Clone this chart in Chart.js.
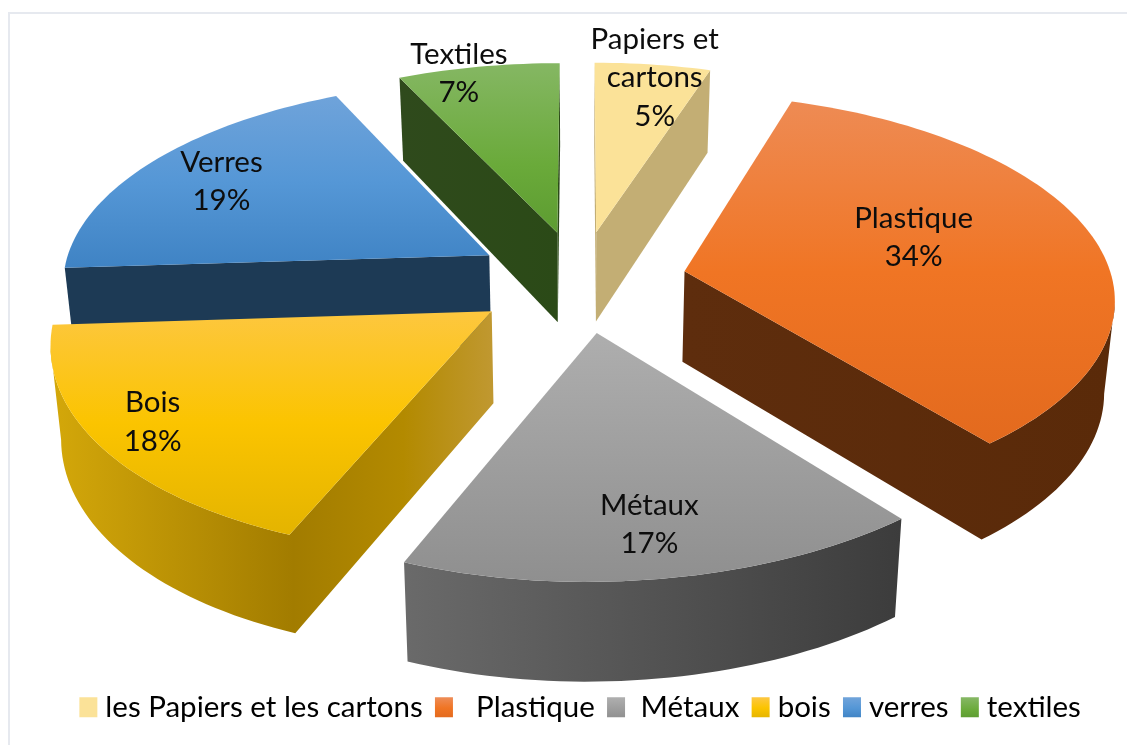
<!DOCTYPE html>
<html>
<head>
<meta charset="utf-8">
<style>
  html, body { margin: 0; background: #fff; }
  #frame { position: absolute; left: 8px; top: 12px; right: 0; bottom: 0; border-left: 2px solid #e6e9ef; border-top: 2px solid #e6e9ef; }
  canvas { position: absolute; left: 0; top: 0; }
</style>
<script src="https://cdn.jsdelivr.net/npm/chart.js@4"></script>
</head>
<body>
<div id="frame"></div>
<canvas id="wasteChart" width="1127" height="745"></canvas>
<script>
const categories = ['les Papiers et les cartons', '  Plastique', ' Métaux', 'bois', 'verres', 'textiles'];
const sliceNames = [['Papiers et', 'cartons'], ['Plastique'], ['Métaux'], ['Bois'], ['Verres'], ['Textiles']];
const shares = [5, 34, 17, 18, 19, 7];

// top face, vertical gradient
const topStops = [
  [[0, '#fbe298'], [1, '#fbe298']],
  [[0, '#ee8b54'], [0.5, '#f07524'], [1, '#e36a1e']],
  [[0, '#aeaeae'], [1, '#8f8f8f']],
  [[0, '#fdc73f'], [0.5, '#fbc400'], [1, '#e4b400']],
  [[0, '#6fa3da'], [0.5, '#5597d6'], [1, '#3f83c4']],
  [[0, '#85b763'], [0.6, '#6aaa3a'], [1, '#5d9c31']]
];
// side walls, horizontal gradient
const wallStops = [
  [[0, '#c3ae74'], [1, '#c3ae74']],
  [[0, '#5e2d0d'], [1, '#5a2a09']],
  [[0, '#6a6a6a'], [1, '#3c3c3c']],
  [[0, '#d4a80a'], [0.55, '#a27c00'], [0.8, '#b38a00'], [1, '#c09830']],
  [[0, '#1d3a55'], [1, '#1d3a55']],
  [[0, '#2f4a1c'], [1, '#2b4a17']]
];
// label shift from the slice middle, px
const labelNudge = [[23, -49.5], [-17, -11.5], [12, 52], [-112, 32], [-61, -16.5], [-49, -55.5]];

// tilted plane -> screen
const CX = 580, CY = 280.5, SX = 428, SY = 201, PERSP = -0.121, SKEW = -8.5, FRONT_STRETCH = 5;
const WALL_BASE = 91, WALL_SLOPE = 7, WALL_SHRINK = 0.98;

const FONT = 'Lato';
const FONT_SIZE = 29.5;

function project(X, Y) {
  const w = 1 + PERSP * Y;
  const front = Math.max(Y, 0);
  return { x: CX + SX * X / w + SKEW * front * Y, y: CY + SY * Y / w + FRONT_STRETCH * front, Y };
}
function lower(p) {
  return { x: CX + (p.x - CX) * WALL_SHRINK, y: p.y + WALL_BASE + WALL_SLOPE * p.Y };
}
function gradient(ctx, x0, y0, x1, y1, stops) {
  const g = ctx.createLinearGradient(x0, y0, x1, y1);
  stops.forEach(s => g.addColorStop(s[0], s[1]));
  return g;
}
function outline(arc) {
  const e = arc.options.offset / 100; // explosion, percent of the radius
  const mid = (arc.startAngle + arc.endAngle) / 2;
  const ox = Math.cos(mid) * e, oy = Math.sin(mid) * e;
  const pts = [project(ox, oy)];
  const n = Math.max(8, Math.round((arc.endAngle - arc.startAngle) * 40));
  for (let i = 0; i <= n; i++) {
    const a = arc.startAngle + (arc.endAngle - arc.startAngle) * i / n;
    pts.push(project(ox + Math.cos(a), oy + Math.sin(a)));
  }
  pts.push(pts[0]);
  return pts;
}
function fillPath(ctx, pts, style) {
  ctx.beginPath();
  pts.forEach((p, i) => i ? ctx.lineTo(p.x, p.y) : ctx.moveTo(p.x, p.y));
  ctx.closePath();
  ctx.fillStyle = style;
  ctx.fill();
}
function drawSlice(ctx, arc, i) {
  const pts = outline(arc);
  const xs = pts.map(p => p.x), ys = pts.map(p => p.y);
  const wall = gradient(ctx, Math.min(...xs), 0, Math.max(...xs), 0, wallStops[i]);
  // only walls facing the viewer: perimeter runs going right to left
  let run = [];
  const flush = () => {
    if (run.length > 1) fillPath(ctx, run.concat(run.map(lower).reverse()), wall);
    run = [];
  };
  for (let k = 0; k < pts.length - 1; k++) {
    if (pts[k + 1].x < pts[k].x) {
      if (!run.length) run.push(pts[k]);
      run.push(pts[k + 1]);
    } else flush();
  }
  flush();
  fillPath(ctx, pts.slice(0, -1), gradient(ctx, 0, Math.min(...ys), 0, Math.max(...ys), topStops[i]));
}

const pie3d = {
  id: 'pie3d',
  beforeDatasetsDraw(chart) {
    const ctx = chart.ctx;
    const arcs = chart.getDatasetMeta(0).data;
    const order = arcs.map((a, i) => i).sort((p, q) =>
      Math.sin((arcs[p].startAngle + arcs[p].endAngle) / 2) - Math.sin((arcs[q].startAngle + arcs[q].endAngle) / 2));
    ctx.save();
    order.forEach(i => drawSlice(ctx, arcs[i], i));
    ctx.restore();
    return false;
  },
  afterDraw(chart) {
    const ctx = chart.ctx;
    const arcs = chart.getDatasetMeta(0).data;
    const total = shares.reduce((s, v) => s + v, 0);
    ctx.save();
    ctx.font = FONT_SIZE + 'px ' + FONT;
    ctx.fillStyle = '#0d0d0d';
    ctx.textAlign = 'center';
    ctx.textBaseline = 'middle';
    arcs.forEach((arc, i) => {
      const e = arc.options.offset / 100;
      const mid = (arc.startAngle + arc.endAngle) / 2;
      const c = project(Math.cos(mid) * (e + 0.6), Math.sin(mid) * (e + 0.6));
      const lines = sliceNames[i].concat(Math.round(shares[i] / total * 100) + '%');
      const lh = 38.5;
      lines.forEach((t, k) => {
        ctx.fillText(t, c.x + labelNudge[i][0], c.y + labelNudge[i][1] + (k - (lines.length - 1) / 2) * lh);
      });
    });
    ctx.restore();
  }
};

new Chart(document.getElementById('wasteChart').getContext('2d'), {
  type: 'pie',
  plugins: [pie3d],
  data: {
    labels: categories,
    datasets: [{
      data: shares,
      offset: 25,
      borderWidth: 0,
      backgroundColor: topStops.map(s => s[0][1])
    }]
  },
  options: {
    responsive: false,
    animation: false,
    events: [],
    layout: { padding: { left: 40, bottom: 13 } },
    plugins: {
      tooltip: { enabled: false },
      legend: {
        position: 'bottom',
        labels: {
          color: '#0d0d0d',
          font: { family: FONT, size: FONT_SIZE },
          // a thin box with a thick border in the same gradient, so the text sits closer to it
          boxWidth: 4.5,
          boxHeight: 6.5,
          padding: 19,
          generateLabels(chart) {
            return categories.map((text, i) => {
              const g = gradient(chart.ctx, 0, 698, 0, 718, topStops[i]);
              return { text, fillStyle: g, strokeStyle: g, lineWidth: 13.5, index: i, hidden: false };
            });
          }
        }
      }
    }
  }
});
</script>
</body>
</html>
